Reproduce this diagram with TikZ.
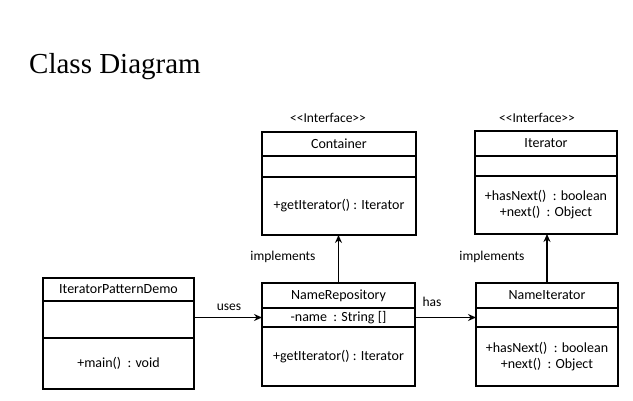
\documentclass[tikz,border=0pt]{standalone}
\usepackage{fontspec}
\setmainfont{Liberation Serif}
\newfontfamily\umlfont{Carlito}
\usetikzlibrary{positioning,arrows.meta}

\tikzset{
  part/.style={draw, line width=1.6pt, outer sep=0pt, inner sep=2pt, align=center,
    font=\umlfont\fontsize{14}{16}\selectfont},
  lbl/.style={inner sep=0pt, font=\umlfont\fontsize{13.5}{16}\selectfont},
  rel/.style={-{Stealth[length=8pt,width=7pt]}, line width=1.6pt},
}

\begin{document}
\begin{tikzpicture}[x=1pt,y=-1pt]
    \useasboundingbox (0,0) rectangle (633,401);

    % Title
    \node[anchor=base west, inner sep=0pt, font=\fontsize{29}{34}\selectfont] (title) at (29,74) {Class Diagram};

    % Container interface
    \node[part, minimum width=154pt, minimum height=24pt] (cont) at (339,144) {Container};
    \node[part, minimum width=154pt, minimum height=21pt, below=0pt of cont] (contattr) {};
    \node[part, minimum width=154pt, minimum height=58pt, below=0pt of contattr] (contops) {+getIterator() : Iterator};
    \node[lbl] (contst) at (328,118) {<<Interface>>};

    % Iterator interface
    \node[part, minimum width=142pt, minimum height=25pt] (it) at (546,143.5) {Iterator};
    \node[part, minimum width=142pt, minimum height=20pt, below=0pt of it] (itattr) {};
    \node[part, minimum width=142pt, minimum height=58pt, below=0pt of itattr] (itops) {+hasNext()\ \ : boolean\\+next()\ \ : Object};
    \node[lbl] (itst) at (537,118) {<<Interface>>};

    % IteratorPatternDemo
    \node[part, minimum width=151pt, minimum height=23pt] (ipd) at (118.5,289.5) {IteratorPatternDemo};
    \node[part, minimum width=151pt, minimum height=37pt, below=0pt of ipd] (ipdattr) {};
    \node[part, minimum width=151pt, minimum height=51pt, below=0pt of ipdattr] (ipdops) {+main()\ \ : void};

    % NameRepository
    \node[part, minimum width=153pt, minimum height=25pt] (nr) at (338.5,295.5) {NameRepository};
    \node[part, minimum width=153pt, minimum height=19pt, below=0pt of nr] (nrattr) {-name\ \ : String []};
    \node[part, minimum width=153pt, minimum height=59pt, below=0pt of nrattr] (nrops) {+getIterator() : Iterator};

    % NameIterator
    \node[part, minimum width=142pt, minimum height=25pt] (ni) at (547,295.5) {NameIterator};
    \node[part, minimum width=142pt, minimum height=19pt, below=0pt of ni] (niattr) {};
    \node[part, minimum width=142pt, minimum height=59pt, below=0pt of niattr] (niops) {+hasNext()\ \ : boolean\\+next()\ \ : Object};

    % Relations
    \draw[rel] (nrattr.west -| ipdattr.east) -- (nrattr.west);
    \draw[rel] (nrattr.east) -- (niattr.west);
    \draw[rel] (nr.north) -- (nr.north |- contops.south);
    \draw[rel] (ni.north) -- (ni.north |- itops.south);

    % Labels
    \node[lbl] (uses) at (229,307) {uses};
    \node[lbl] (has) at (432,302) {has};
    \node[lbl] (impl1) at (283,257) {implements};
    \node[lbl] (impl2) at (492,257) {implements};
\end{tikzpicture}
\end{document}
